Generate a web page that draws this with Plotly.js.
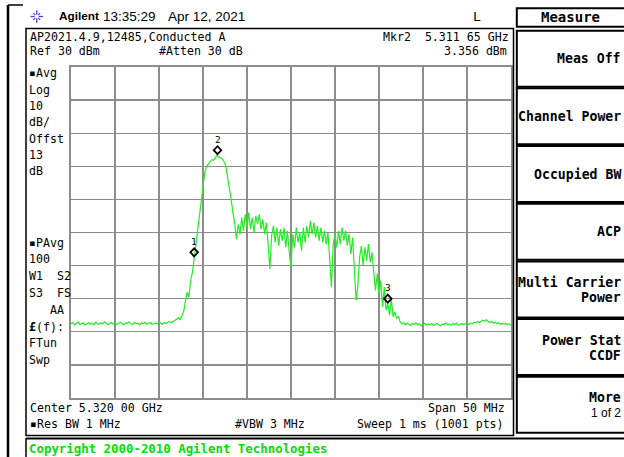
<!DOCTYPE html>
<html><head><meta charset="utf-8">
<script src="https://cdn.plot.ly/plotly-3.0.1.min.js"></script>
<style>html,body{margin:0;padding:0;background:#fff;}#chart{width:624px;height:457px;}</style>
</head><body><div id="chart"></div>
<script>
// ---- data ----
const sweepStartMHz = 5295;   // center 5.320 GHz, span 50 MHz
const sweepStepMHz = 0.2;
const traceDbm = [
 -47.6,-47.2,-47.9,-47.4,-47.0,-47.8,-47.5,-47.3,-48.0,-47.6,
 -47.2,-47.7,-47.4,-47.9,-47.1,-47.5,-47.8,-47.3,-47.6,-47.0,
 -47.4,-47.9,-47.5,-47.2,-47.7,-47.3,-47.8,-47.4,-47.1,-47.6,
 -47.9,-47.3,-47.5,-47.0,-47.6,-47.8,-47.2,-47.5,-47.4,-47.9,
 -47.3,-47.6,-47.1,-47.7,-47.4,-47.2,-47.8,-47.5,-47.3,-47.6,
 -47.0,-47.4,-47.7,-47.2,-47.5,-47.1,-46.9,-47.3,-46.8,-46.6,
 -46.2,
 -45.8,-46.3,-45.3,-43.8,-41.0,-38.0,-39.5,-34.5,-32.0,-27.5,
 -23.5,-19.5,-15.0,-10.5,-5.0,-2.0,0.0,0.8,1.6,2.0,
 1.8,2.5,3.3,2.8,2.5,2.2,1.4,0.0,-3.5,-6.5,
 -10.0,-14.0,-17.0,
 -22.0,-17.5,-20.5,-15.5,-19.5,-14.5,-18.5,-14.0,-19.0,-15.5,
 -20.0,-15.0,-17.5,-14.5,-19.0,-16.0,-20.5,-17.0,-23.5,-31.0,
 -21.0,-18.0,-23.0,-18.5,-24.0,-19.0,-22.5,-18.5,-24.5,-19.5,
 -26.0,-30.5,-20.5,-24.5,-18.5,-23.0,-20.0,-25.5,-18.5,-23.0,
 -18.0,-21.5,-16.5,-20.5,-17.0,-21.5,-18.0,-22.5,-18.5,-23.0,
 -19.5,-23.5,-20.0,-28.0,-36.5,-23.5,-20.5,-24.5,-19.5,-23.5,
 -18.5,-22.5,-19.5,-24.0,-20.5,-26.5,-21.5,-31.0,-40.5,-36.0,
 -27.5,-24.0,-30.0,-24.5,-28.5,-23.5,-29.0,-26.0,-33.0,-37.5,
 -32.5,-39.0,-34.5,-42.5,-36.5,-43.5,-41.5,-45.0,-40.0,-45.5,
 -44.0,-46.0,-45.3,
 -47.0,-47.6,-47.2,-47.9,-47.4,-47.7,-48.1,-47.5,-47.8,-47.3,
 -47.9,-47.6,-48.2,-47.7,-47.4,-48.0,-47.6,-47.9,-47.5,-48.1,
 -47.7,-47.4,-47.9,-48.2,-47.6,-47.8,-47.3,-47.9,-47.6,-48.0,
 -47.5,-47.8,-47.4,-48.1,-47.7,-47.5,-47.9,-47.6,-47.3,-47.8,
 -47.4,-47.6,-47.1,-47.3,-46.9,-47.2,-46.7,-46.5,-46.8,-46.4,
 -46.9,-47.2,-46.8,-47.4,-47.1,-47.6,-47.3,-47.8,-47.5,-47.7,
 -47.4,-47.9,-47.6,-48.0
];
const markerNames = ['1','2','3'];
const markerFreqMHz = [5309.0, 5311.65, 5331.0];
const markerDbm = [-27.5, 3.356, -41.5];
const refLevelDbm = 30, dbPerDiv = 10, centerMHz = 5320, spanMHz = 50;

const leftLabels = ['▪Avg','Log','10','dB/','Offst','13','dB','▪PAvg','100','W1  S2','S3  FS','   AA','<b>£</b>(f):','FTun','Swp'];
const leftLabelY = [73,90,106,122,139,155,171,243,259,276,293,310,327,343,360];
const softkeys = [['Meas Off'],['Channel Power'],['Occupied BW'],['ACP'],['Multi Carrier','Power'],['Power Stat','CCDF'],['More','1 of 2']];

// ---- drawing ----
const freqMHz = traceDbm.map((_, i) => Math.round((sweepStartMHz + i * sweepStepMHz) * 100) / 100);
const L = 71, T = 67, W = 440, H = 331;
const PX = x => (x - L) / W, PY = y => (T + H - y) / H;
const MONO = 'DejaVu Sans Mono', SANS = 'Liberation Sans, Arial, sans-serif';
const ann = [];
function txt(x, y, text, anchor, size, family, color, extra) {
  ann.push(Object.assign({xref:'paper', yref:'paper', x:PX(x), y:PY(y), text:text, showarrow:false,
    xanchor:anchor, yanchor:'middle', font:{family:family||MONO, size:size||11.6, color:color||'#000'}}, extra||{}));
}
const shapes = [];
function line(x0,y0,x1,y1,w,c){ shapes.push({type:'line', xref:'paper', yref:'paper', x0:PX(x0), y0:PY(y0), x1:PX(x1), y1:PY(y1), line:{color:c||'#000', width:w||1.5}, layer:'above'}); }
function rect(x0,y0,x1,y1,w){ shapes.push({type:'rect', xref:'paper', yref:'paper', x0:PX(x0), y0:PY(y0), x1:PX(x1), y1:PY(y1), line:{color:'#000', width:w||1.5}, layer:'above'}); }

// frame
line(8,5,8,458,2.5); line(8,5,23,5,1.5);
rect(26,28.5,513.5,435.5,1.5);
line(26,438.5,626,438.5,1.8); line(26,438,26,460,1.5);
rect(516.8,8.3,630,26.7,2);
softkeys.forEach((k,i)=>{ const t = 30.7 + 57.67*i; rect(516.8,t,630,t+56,2); });
// logo
const cx = 36.7, cy = 16.5;
for (let a = 0; a < 8; a++) { const ang = a*Math.PI/4, r1 = 2, r2 = (a%2 ? 4.8 : 6.2);
  line(cx + r1*Math.cos(ang), cy + r1*Math.sin(ang), cx + r2*Math.cos(ang), cy + r2*Math.sin(ang), 1.3, '#4444dd'); }

// header
txt(57,16,'<b>Agilent</b>','left',11.8,SANS);
txt(101,16,'13:35:29','left',13.5,SANS);
txt(166,16,'Apr 12, 2021','left',13.5,SANS);
txt(471,16,'L','left',13,MONO);
txt(570,17,'<b>Measure</b>','center',14,MONO);
// main box text
txt(28,37,'AP2021.4.9,12485,Conducted A','left');
txt(28,51,'Ref '+refLevelDbm+' dBm','left');
txt(157,51,'#Atten 30 dB','left');
txt(511,37,'Mkr2  5.311 65 GHz','right');
txt(509,51,'3.356 dBm','right');
leftLabels.forEach((s,i)=>txt(27,leftLabelY[i],s.replace(/ /g,'&nbsp;'),'left'));
txt(28,408,'Center 5.320 00 GHz','left');
txt(507,408,'Span '+spanMHz+' MHz','right');
txt(28,424,'▪Res BW 1 MHz','left');
txt(233,424,'#VBW 3 MHz','left');
txt(506,424,'Sweep 1 ms (1001 pts)','right');
txt(27,448,'<b>Copyright 2000-2010 Agilent Technologies</b>','left',12.4,MONO,'#00e000');
// softkeys
const SK = 13.2, SKX = 622.5;
softkeys.forEach((k,i)=>{ const c = 30.7 + 57.67*i + 28;
  if (k.length === 1) txt(SKX,c,'<b>'+k[0]+'</b>','right',SK,MONO);
  else if (i === 6) { txt(SKX,c-7,'<b>'+k[0]+'</b>','right',SK,MONO); txt(SKX,c+8,k[1],'right',12,SANS); }
  else { txt(SKX,c-7,'<b>'+k[0]+'</b>','right',SK,MONO); txt(SKX,c+8,'<b>'+k[1]+'</b>','right',SK,MONO); }
});
// markers
markerFreqMHz.forEach((f,i)=>{
  shapes.push({type:'path', xref:'x', yref:'y', xsizemode:'pixel', ysizemode:'pixel', xanchor:f, yanchor:markerDbm[i],
    path:'M0,1 L3.8,5 L0,9 L-3.8,5 Z', line:{color:'#000', width:1.8}, fillcolor:'rgba(0,0,0,0)', layer:'above'});
  ann.push({xref:'x', yref:'y', x:f, y:markerDbm[i], yshift:16, text:markerNames[i], showarrow:false,
    font:{family:MONO, size:9.5, color:'#000'}, xanchor:'center', yanchor:'middle'});
});

const grid = '#8c8c8c';
const layout = {
  width:624, height:457, margin:{l:L, r:624-L-W, t:T, b:457-T-H, pad:0},
  paper_bgcolor:'#fff', plot_bgcolor:'#fff', showlegend:false,
  xaxis:{range:[centerMHz-spanMHz/2, centerMHz+spanMHz/2], tick0:centerMHz-spanMHz/2, dtick:spanMHz/10, showticklabels:false, ticks:'',
    showgrid:true, gridcolor:grid, gridwidth:1.3, zeroline:false, showline:true, mirror:true, linecolor:grid, linewidth:2, fixedrange:true},
  yaxis:{range:[refLevelDbm-10*dbPerDiv, refLevelDbm], tick0:refLevelDbm-10*dbPerDiv, dtick:dbPerDiv, showticklabels:false, ticks:'',
    showgrid:true, gridcolor:grid, gridwidth:1.3, zeroline:false, showline:true, mirror:true, linecolor:grid, linewidth:2, fixedrange:true},
  annotations:ann, shapes:shapes
};
Plotly.newPlot('chart', [{x:freqMHz, y:traceDbm, type:'scatter', mode:'lines', line:{color:'#22ee22', width:1.2}, hoverinfo:'skip'}],
  layout, {staticPlot:true, displayModeBar:false});
</script></body></html>
